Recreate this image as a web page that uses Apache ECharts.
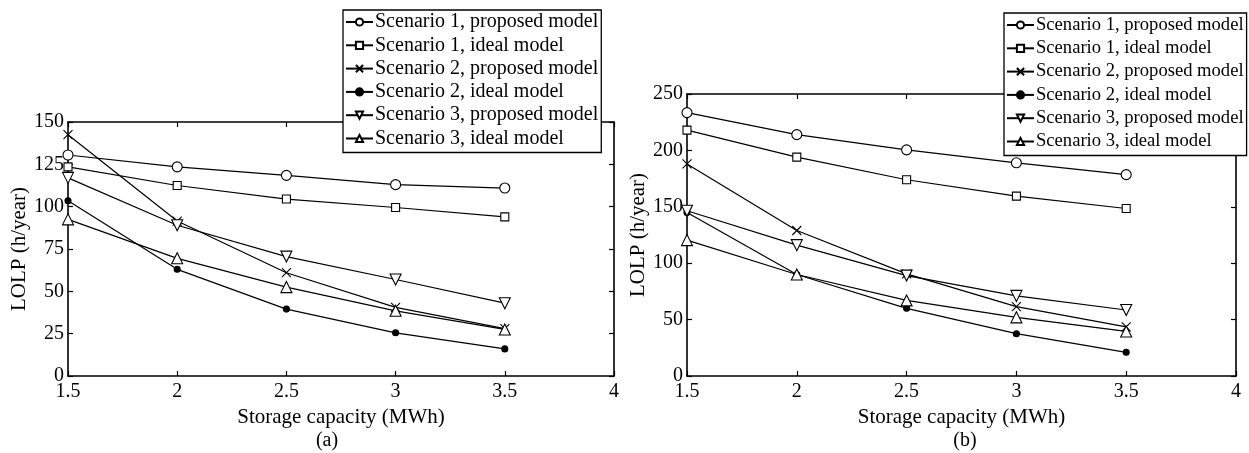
<!DOCTYPE html>
<html>
<head>
<meta charset="utf-8">
<script src="https://cdn.jsdelivr.net/npm/echarts@6/dist/echarts.min.js"></script>
<style>
  html, body { margin: 0; padding: 0; background: #fff; }
  #main { width: 1249px; height: 453px; }
</style>
</head>
<body>
<div id="main"></div>
<script type="application/javascript">
// storage capacity (MWh)
const capacity = [1.5, 2, 2.5, 3, 3.5];
const xTicks = [1.5, 2, 2.5, 3, 3.5, 4];

const seriesNames = [
  'Scenario 1, proposed model',
  'Scenario 1, ideal model',
  'Scenario 2, proposed model',
  'Scenario 2, ideal model',
  'Scenario 3, proposed model',
  'Scenario 3, ideal model'
];

// panel (a) LOLP (h/year)
const a_s1Proposed = [130.5, 123.5, 118.5, 113, 111];
const a_s1Ideal = [123.5, 112.5, 104.5, 99.5, 94];
const a_s2Proposed = [142.5, 91.5, 61, 40.5, 28];
const a_s2Ideal = [103.5, 63, 39.5, 25.5, 16];
const a_s3Proposed = [117, 89, 70.5, 57, 43];
const a_s3Ideal = [92.5, 69.5, 52.5, 38.5, 27.5];

// panel (b) LOLP (h/year)
const b_s1Proposed = [233.5, 214, 200.5, 189, 178.5];
const b_s1Ideal = [218, 194, 174, 159.5, 148.5];
const b_s2Proposed = [188, 129, 90.5, 61.5, 43.5];
const b_s2Ideal = [145, 90, 60, 37.5, 21];
const b_s3Proposed = [146.5, 116, 89, 71, 58.5];
const b_s3Ideal = [120.5, 90, 67, 52, 39.5];

const FONT = 'Liberation Serif';

const markers = [
  { symbol: 'circle', symbolSize: 10, fill: '#fff' },
  { symbol: 'rect', symbolSize: 8, fill: '#fff' },
  { symbol: 'path://M0,0L10,10M10,0L0,10', symbolSize: 9, fill: '#000' },
  { symbol: 'circle', symbolSize: 6, fill: '#000' },
  { symbol: 'path://M0,0L10,0L5,9Z', symbolSize: 11, fill: '#fff' },
  { symbol: 'path://M5,0L10,9L0,9Z', symbolSize: 11, fill: '#fff' }
];

function pairs(values) {
  return values.map((v, i) => [capacity[i], v]);
}

function lineSerie(idx, values, axisIndex) {
  const m = markers[idx];
  return {
    name: seriesNames[idx],
    type: 'line',
    xAxisIndex: axisIndex,
    yAxisIndex: axisIndex,
    data: pairs(values),
    symbol: m.symbol,
    symbolSize: m.symbolSize,
    showAllSymbol: true,
    lineStyle: { color: '#000', width: 1.2 },
    itemStyle: { color: m.fill, borderColor: '#000', borderWidth: 1.1 },
    emphasis: { disabled: true },
    animation: false,
    z: 3
  };
}

function xAxes(gridIndex) {
  return [{
    type: 'value', gridIndex, min: 1.5, max: 4, interval: 0.5,
    name: 'Storage capacity (MWh)', nameLocation: 'middle', nameGap: 23,
    nameTextStyle: { fontFamily: FONT, fontSize: 21, color: '#000' },
    axisLine: { show: true, onZero: false, lineStyle: { color: '#000', width: 1.6 } },
    axisTick: { show: true, inside: true, length: 5, lineStyle: { color: '#000', width: 1.2 } },
    axisLabel: { fontFamily: FONT, fontSize: 20, color: '#000', margin: 6,
      customValues: xTicks },
    splitLine: { show: false }
  }, {
    type: 'value', gridIndex, position: 'top', min: 1.5, max: 4, interval: 0.5,
    axisLine: { show: true, onZero: false, lineStyle: { color: '#000', width: 1.6 } },
    axisTick: { show: true, inside: true, length: 5, lineStyle: { color: '#000', width: 1.2 } },
    axisLabel: { show: false },
    splitLine: { show: false }
  }];
}

function yAxes(gridIndex, max, interval) {
  return [{
    type: 'value', gridIndex, min: 0, max, interval,
    name: 'LOLP (h/year)', nameLocation: 'middle', nameGap: 38,
    nameTextStyle: { fontFamily: FONT, fontSize: 21, color: '#000' },
    axisLine: { show: true, onZero: false, lineStyle: { color: '#000', width: 1.6 } },
    axisTick: { show: true, inside: true, length: 5, lineStyle: { color: '#000', width: 1.2 } },
    axisLabel: { fontFamily: FONT, fontSize: 20, color: '#000', margin: 4 },
    splitLine: { show: false }
  }, {
    type: 'value', gridIndex, position: 'right', min: 0, max, interval,
    axisLine: { show: true, onZero: false, lineStyle: { color: '#000', width: 1.6 } },
    axisTick: { show: true, inside: true, length: 5, lineStyle: { color: '#000', width: 1.2 } },
    axisLabel: { show: false },
    splitLine: { show: false }
  }];
}

function legendBox(left, top, fontSize) {
  return {
    data: seriesNames,
    orient: 'vertical',
    left, top,
    itemWidth: 27,
    itemHeight: 9,
    itemGap: 3.3,
    padding: [2, 3, 4, 2],
    backgroundColor: '#fff',
    borderColor: '#000',
    borderWidth: 1.3,
    borderRadius: 0,
    selectedMode: false,
    textStyle: { fontFamily: FONT, fontSize, color: '#000', lineHeight: 20, padding: [0, 0, 0, -3] },
    z: 10
  };
}

const chart = echarts.init(document.getElementById('main'));

const panelA = [a_s1Proposed, a_s1Ideal, a_s2Proposed, a_s2Ideal, a_s3Proposed, a_s3Ideal];
const panelB = [b_s1Proposed, b_s1Ideal, b_s2Proposed, b_s2Ideal, b_s3Proposed, b_s3Ideal];

const xa = xAxes(0), xb = xAxes(1);
const ya = yAxes(0, 150, 25), yb = yAxes(1, 250, 50);

const series = [];
panelA.forEach((vals, i) => series.push(lineSerie(i, vals, 0)));
panelB.forEach((vals, i) => series.push(lineSerie(i, vals, 2)));
// secondary (mirror) axes are 1 and 3; series use 0 (panel a) and 2 (panel b)

chart.setOption({
  backgroundColor: '#fff',
  animation: false,
  grid: [
    { left: 68, top: 122, width: 546, height: 254 },
    { left: 687, top: 94, width: 549, height: 282 }
  ],
  xAxis: [xa[0], xa[1], xb[0], xb[1]],
  yAxis: [ya[0], ya[1], yb[0], yb[1]],
  legend: [legendBox(343, 10, 20), legendBox(1004, 13, 18.6)],
  series,
  graphic: [
    { type: 'text', x: 327, y: 441, style: { text: '(a)', fontFamily: FONT, fontSize: 20, fill: '#000', align: 'center', verticalAlign: 'middle' } },
    { type: 'text', x: 965, y: 441, style: { text: '(b)', fontFamily: FONT, fontSize: 20, fill: '#000', align: 'center', verticalAlign: 'middle' } }
  ]
});
</script>
</body>
</html>
